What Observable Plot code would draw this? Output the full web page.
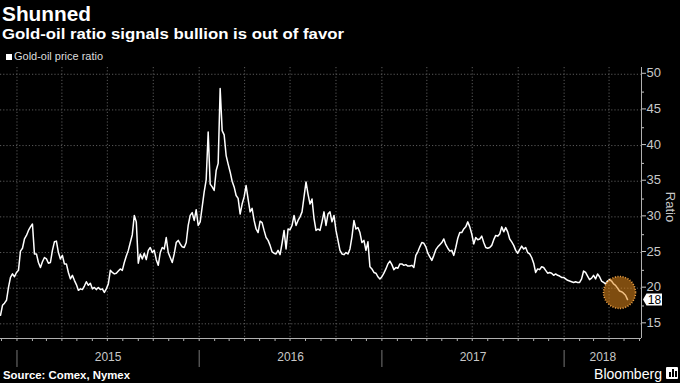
<!DOCTYPE html>
<html><head><meta charset="utf-8">
<script src="https://cdn.jsdelivr.net/npm/d3@7"></script>
<script src="https://cdn.jsdelivr.net/npm/@observablehq/plot@0.6"></script>
<style>
html,body{margin:0;padding:0;background:#000;}
#wrap{position:relative;width:680px;height:383px;overflow:hidden;background:#000;font-family:"Liberation Sans",Arial,sans-serif;}
#chart{position:absolute;left:0;top:0;}
.t{position:absolute;white-space:nowrap;transform-origin:0 0;display:inline-block;}
</style></head><body>
<div id="wrap">
  <div id="chart"></div>
  <div class="t" data-w="89" style="left:2px;top:4px;font-size:20px;line-height:20px;font-weight:bold;color:#fff;">Shunned</div>
  <div class="t" data-w="342" style="left:2px;top:26.4px;font-size:15.4px;line-height:15.4px;font-weight:bold;color:#fff;">Gold-oil ratio signals bullion is out of favor</div>
  <div style="position:absolute;left:5.5px;top:54px;width:6px;height:6px;background:#fff;"></div>
  <div class="t" data-w="89" style="left:14px;top:52px;font-size:10px;line-height:10px;color:#ddd;">Gold-oil price ratio</div>
  <div class="t" data-w="127" style="left:3px;top:370.3px;font-size:11.4px;line-height:11.4px;font-weight:bold;color:#fff;">Source: Comex, Nymex</div>
  <div class="t" data-w="68" style="left:594px;top:367px;font-size:14px;line-height:14px;color:#fff;">Bloomberg</div>
  <div style="position:absolute;left:666px;top:367px;width:12px;height:12px;background:#fff;border-radius:1px;">
    <div style="position:absolute;left:3px;top:5px;width:1.5px;height:5px;background:#000;"></div>
    <div style="position:absolute;left:6px;top:2px;width:1.5px;height:8px;background:#000;"></div>
    <div style="position:absolute;left:9px;top:4px;width:1.5px;height:6px;background:#000;"></div>
  </div>
</div>
<script>
// ---- data ----
const startDate = "2014-11-29";
const stepDays = 4;
const ratio = [
16.2,17.6,17.9,18.3,20.1,21.5,22.0,21.6,22.2,22.5,
25.2,25.6,26.9,27.4,28.1,28.6,29.0,24.8,24.8,23.6,
22.9,23.7,24.3,24.1,23.5,23.6,25.3,26.5,26.6,25.0,
24.1,24.6,23.4,23.4,22.2,21.3,21.8,21.1,20.5,19.7,
19.9,19.8,20.3,20.9,20.4,20.7,19.9,20.1,19.8,20.1,
19.8,19.9,19.4,19.9,20.6,22.5,22.2,22.0,22.1,22.4,
22.7,22.5,23.6,24.5,25.3,26.4,27.5,30.2,29.3,23.5,
24.8,24.1,24.9,24.0,25.3,25.7,25.0,25.3,24.0,23.2,
25.0,25.7,25.5,27.1,25.0,24.3,23.6,24.8,26.4,26.7,
26.2,25.8,25.7,26.4,28.8,30.2,30.6,29.5,31.0,28.8,
29.3,31.4,33.5,35.2,41.9,34.6,34.2,33.7,36.5,37.5,
48.0,42.1,41.5,38.6,37.4,36.3,35.0,34.2,33.0,32.6,
30.4,31.8,32.8,34.4,32.5,30.7,31.2,29.5,28.3,27.8,
29.4,29.2,28.1,27.1,26.7,26.0,25.1,24.9,24.8,25.3,
24.7,26.3,28.1,25.5,28.3,28.2,28.8,30.2,28.8,29.5,
30.0,30.7,32.8,34.9,33.2,31.8,32.5,29.8,28.1,28.3,
28.1,29.3,30.7,28.8,30.4,30.7,29.3,30.2,28.1,26.7,
25.3,24.8,24.7,25.0,24.8,25.5,27.2,29.5,28.3,28.5,
27.8,26.4,26.7,25.3,26.5,23.0,22.7,22.2,22.1,21.6,
21.3,21.6,22.1,22.7,23.4,23.8,23.3,22.6,22.9,22.8,
23.4,23.4,23.2,23.3,23.1,23.1,23.2,22.9,24.6,25.1,
25.8,26.4,26.3,25.8,24.9,24.4,23.9,24.6,25.4,25.8,
26.1,26.4,26.9,26.1,25.6,25.2,25.3,24.6,25.7,27.0,
27.8,27.8,28.3,28.6,29.3,28.6,27.6,26.2,27.1,26.8,
26.9,27.3,26.4,25.7,25.6,25.7,26.0,26.8,27.4,27.3,
27.6,28.6,27.9,28.5,27.9,26.9,26.5,26.0,25.3,24.9,
25.4,25.9,25.5,25.7,25.0,24.8,24.3,23.5,22.2,22.7,
22.6,23.0,22.9,22.5,22.1,22.2,22.1,21.8,22.0,21.8,
21.7,21.5,21.5,21.3,21.1,21.0,20.9,20.8,20.9,20.8,
20.8,21.3,22.4,22.2,21.7,21.2,21.4,21.8,21.3,22.0,
21.6,21.0,20.8,20.6,21.0,21.2,21.0,20.6,20.4,20.0,
19.6,19.5,19.3,19.0,18.4
];
const xDomain = ["2014-11-29", "2018-06-05"];
const yDomain = [12.94, 50.95];
const yTicks = [15, 20, 25, 30, 35, 40, 45, 50];
const yMinorTicks = [17.5, 22.5, 27.5, 32.5, 37.5, 42.5, 47.5];
const yearStarts = ["2015-01-01", "2016-01-01", "2017-01-01", "2018-01-01"];
const yearLabels = ["2015", "2016", "2017", "2018"];
const highlightDate = "2018-04-22";
const highlightValue = 19.4;
const axisLabel = "Ratio";

// ---- build ----
const start = new Date(startDate + "T00:00:00Z");
const series = ratio.map((v, i) => ({date: d3.utcDay.offset(start, i * stepDays), value: v}));
const x0 = new Date(xDomain[0] + "T00:00:00Z");
const x1 = new Date(xDomain[1] + "T00:00:00Z");
const yStarts = yearStarts.map(s => new Date(s + "T00:00:00Z"));
const yearMid = yStarts.map((d, i) => {
  const e = i < yStarts.length - 1 ? yStarts[i + 1] : x1;
  return {mid: new Date((+d + +e) / 2), label: yearLabels[i]};
});
const months = d3.utcMonth.range(x0, x1);
const quarters = d3.utcMonth.every(3).range(x0, x1);
const last = series[series.length - 1];
const lastLabel = d3.format(".0f")(last.value);

const grid = {stroke: "#5a5a5a", strokeDasharray: "1.2,2", strokeWidth: 1};

const chart = Plot.plot({
  width: 680, height: 383,
  marginTop: 67, marginBottom: 45, marginLeft: 0, marginRight: 39,
  style: {background: "transparent", color: "#c8c8c8", fontFamily: "Liberation Sans, Arial, sans-serif", fontSize: "13px", overflow: "visible"},
  x: {type: "utc", domain: [x0, x1], axis: null},
  y: {domain: yDomain, axis: null},
  marks: [
    Plot.ruleY(yTicks, grid),
    Plot.ruleX(quarters, grid),
    Plot.line(series, {x: "date", y: "value", stroke: "#fff", strokeWidth: 1.5, strokeLinejoin: "round"}),
    Plot.dot([{date: new Date(highlightDate + "T00:00:00Z"), value: highlightValue}], {
      x: "date", y: "value", r: 16, fill: "#e58a1c", fillOpacity: 0.55,
      stroke: "#f0a345", strokeWidth: 1.6, strokeDasharray: "1,1.6"
    }),
    Plot.ruleY([yDomain[0]], {stroke: "#b0b0b0", strokeWidth: 1}),
    Plot.ruleX([x1], {stroke: "#b0b0b0", strokeWidth: 1}),
    Plot.axisX({ticks: months, tickSize: 3, tickFormat: () => "", color: "#b0b0b0"}),
    Plot.axisX({ticks: yStarts, tickSize: 17, dy: 12, tickFormat: () => "", color: "#777"}),
    Plot.text(yearMid, {x: "mid", text: "label", frameAnchor: "bottom", dy: 19, fill: "#c8c8c8", fontSize: 12, lineAnchor: "middle", textAnchor: "middle"}),
    Plot.axisY({anchor: "right", ticks: yTicks, tickSize: 4, tickPadding: 1, tickFormat: d => d, label: null, color: "#c8c8c8", fontSize: 13, dy: -1}),
    Plot.axisY({anchor: "right", ticks: yMinorTicks, tickSize: 2, tickFormat: () => "", label: null, color: "#c8c8c8"}),
    Plot.text([axisLabel], {text: d => d, frameAnchor: "right", rotate: 90, dx: 29, dy: 4, fill: "#c8c8c8", fontSize: 13, textAnchor: "middle", lineAnchor: "middle"}),
    (index, scales) => {
      const x = scales.x(x1), y = scales.y(last.value) + 0.5;
      const g = d3.create("svg:g");
      g.append("path")
        .attr("d", `M${x + 2},${y} L${x + 5.5},${y - 6} H${x + 21} V${y + 6} H${x + 5.5} Z`)
        .attr("fill", "#fff");
      g.append("text").attr("x", x + 13.5).attr("y", y).attr("dy", "0.36em")
        .attr("text-anchor", "middle").attr("fill", "#000").attr("font-size", 12)
        .attr("font-family", "Liberation Sans, Arial, sans-serif").text(lastLabel);
      return g.node();
    }
  ]
});
document.getElementById("chart").appendChild(chart);

document.querySelectorAll(".t[data-w]").forEach(el => {
  const w = el.getBoundingClientRect().width;
  const target = +el.dataset.w;
  if (w > 0) el.style.transform = `scaleX(${target / w})`;
});
</script>
</body></html>
